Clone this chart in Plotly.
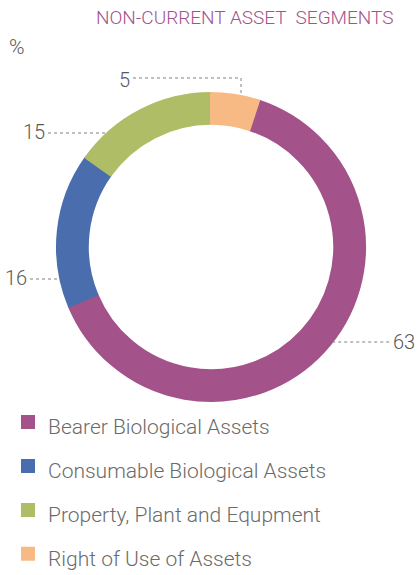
import math
import plotly.graph_objects as go

# ---- data ----
categories = ["Bearer Biological Assets", "Consumable Biological Assets",
              "Property, Plant and Equpment", "Right of Use of Assets"]
values = [63, 16, 15, 5]
colors = ["#A3528A", "#4A6EAD", "#AFBD66", "#F8BA85"]
title_text = "NON-CURRENT ASSET  SEGMENTS"
unit_text = "%"

W, H = 417, 575
def px(x): return x / W
def py(y): return 1 - y / H

# ring geometry (pixels)
CX, CY, R = 211, 247, 154

fig = go.Figure()
fig.add_trace(go.Pie(
    labels=[f"<span style='font-size:21px'>{c}</span>" for c in categories],
    values=values,
    marker=dict(colors=colors, line=dict(color=colors, width=2)),
    hole=0.8,
    sort=False,
    direction="clockwise",
    rotation=values[-1] / sum(values) * 360,
    textinfo="none",
    hoverinfo="skip",
    domain=dict(x=[px(CX - R), px(CX + R)], y=[py(CY + R), py(CY - R)]),
))

# value labels with dotted leader lines
label_pos = {  # value index -> (label x, label y, line y)
    3: (124, 80, 78),
    2: (34, 132, 133),
    1: (16, 278, 279),
    0: (404, 342, 342),
}
line_style = dict(color="#808080", width=1, dash="dot")
for i, (lx, ly, yl) in label_pos.items():
    fig.add_annotation(x=px(lx), y=py(ly), xref="paper", yref="paper",
                       xanchor="center", yanchor="middle",
                       text=str(values[i]), showarrow=False,
                       font=dict(family="Roboto", size=20, color="#595959", weight=300))
for i in (2, 1):
    lx, ly, yl = label_pos[i]
    dx = math.sqrt(R * R - (yl - CY) ** 2)
    fig.add_shape(type="line", xref="paper", yref="paper",
                  x0=px(lx + 14), x1=px(CX - dx), y0=py(yl), y1=py(yl), line=line_style)
lx, ly, yl = label_pos[0]
dx = math.sqrt(R * R - (yl - CY) ** 2)
fig.add_shape(type="line", xref="paper", yref="paper",
              x0=px(CX + dx), x1=px(lx - 14), y0=py(yl), y1=py(yl), line=line_style)
# "5" label: horizontal then vertical down to ring
lx, ly, yl = label_pos[3]
vx = 241
vy = CY - math.sqrt(R * R - (vx - CX) ** 2)
fig.add_shape(type="line", xref="paper", yref="paper",
              x0=px(lx + 9), x1=px(vx), y0=py(yl), y1=py(yl), line=line_style)
fig.add_shape(type="line", xref="paper", yref="paper",
              x0=px(vx), x1=px(vx), y0=py(yl), y1=py(vy), line=line_style)

# title and unit
fig.add_annotation(x=px(245), y=py(17), xref="paper", yref="paper", text=title_text,
                   xanchor="center", yanchor="middle", showarrow=False,
                   font=dict(family="Roboto", size=19, color="#A3528A", weight=300))
fig.add_annotation(x=px(17), y=py(47), xref="paper", yref="paper", text=unit_text,
                   xanchor="center", yanchor="middle", showarrow=False,
                   font=dict(family="Roboto", size=21, color="#595959", weight=300))

fig.update_layout(
    width=W, height=H,
    margin=dict(l=0, r=0, t=0, b=0, autoexpand=False),
    paper_bgcolor="white", plot_bgcolor="white",
    showlegend=True,
    legend=dict(x=px(8), y=py(395), xanchor="left", yanchor="top",
                itemclick=False, itemdoubleclick=False,
                font=dict(family="Roboto", size=31.5, color="#6b6b6b", weight=300),
                bgcolor="rgba(0,0,0,0)"),
)

fig.write_html("out.html", config={"displayModeBar": False},
               post_script="document.body.style.margin='0';")
